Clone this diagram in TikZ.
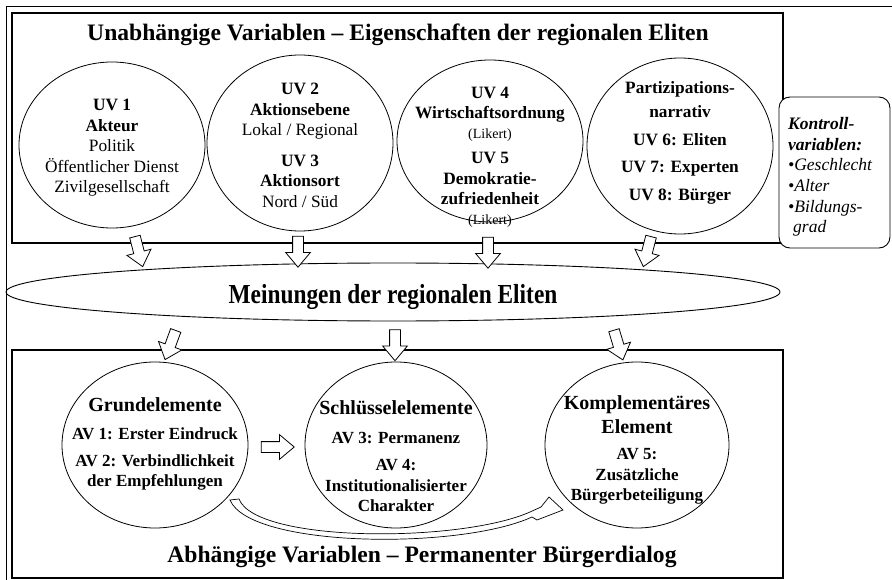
\documentclass[tikz,border=0pt]{standalone}
\usepackage{fontspec}
\usepackage{graphicx}
\setmainfont{Liberation Serif}
\usetikzlibrary{shapes.geometric,shapes.arrows}

\newcommand\fsz[2]{\fontsize{#1}{#2}\selectfont}

\begin{document}
\begin{tikzpicture}[x=1pt,y=-1pt,
  outer/.style={draw, line width=0.7pt},
  panel/.style={draw, line width=1.5pt},
  circ/.style={ellipse, draw, line width=0.8pt, inner sep=0,
               minimum width=186, minimum height=166},
  uvtext/.style={align=center, inner sep=0, font=\fsz{17.3}{20.5}},
  avtext/.style={align=center, inner sep=0, font=\bfseries\fsz{17}{20.5}},
  title/.style={inner sep=0, font=\bfseries\fsz{23.6}{27}},
  blk/.style={single arrow, draw, fill=white, line width=0.8pt, inner sep=0,
              minimum width=24, single arrow head extend=7, single arrow tip angle=80,
              minimum height=31, sloped, allow upside down},
  kbox/.style={draw, fill=white, line width=0.9pt, rounded corners=11}
]
\useasboundingbox (0,0) rectangle (892,580);

% outer frame (open to the right and bottom)
\draw[outer] (892,6) -- (6,6) -- (6,580);

% ---------- independent variables ----------
\draw[panel] (12,13) rectangle (783,243);
\node[title] (ttop) at (398,35) {Unabhängige Variablen – Eigenschaften der regionalen Eliten};

\node[circ] (uv1) at (112,145) {};
\node[circ, minimum height=176] (uv23) at (300,143) {};
\node[circ, minimum height=162] (uv45) at (490,141) {};
\node[circ, minimum height=176] (uv68) at (680,146) {};

\node[uvtext] (t1) at (112,148)
  {\bfseries UV 1\\\bfseries Akteur\\Politik\\Öffentlicher Dienst\\Zivilgesellschaft};
\node[uvtext] (t23) at (300,145.5)
  {\bfseries UV 2\\\bfseries Aktionsebene\\Lokal / Regional\\[10pt]
   \bfseries UV 3\\\bfseries Aktionsort\\Nord / Süd};
\node[uvtext] (t45) at (490,157)
  {\bfseries UV 4\\\bfseries Wirtschaftsordnung\\[-1pt]{\fsz{14}{20.5}(Likert)}\\[5pt]
   \bfseries UV 5\\\bfseries Demokratie-\\\bfseries zufriedenheit\\[-1pt]{\fsz{14}{20.5}(Likert)}};
\node[uvtext, font=\bfseries\fsz{17.3}{20.5}] (t68) at (680,143)
  {Partizipations-\\[3.5pt]narrativ\\[7.5pt]UV 6: Eliten\\[6.5pt]UV 7: Experten\\[7.5pt]UV 8: Bürger};

% control variables
\node[kbox, minimum width=111, minimum height=151] (kv) at (834.5,172.5) {};
\node[align=left, inner sep=0, anchor=west, font=\itshape\fsz{17.5}{20.6}] (kvt) at (788,177)
  {\bfseries Kontroll-\\\bfseries variablen:\\•Geschlecht\\•Alter\\•Bildungs-\\\hspace*{5pt}grad};

% ---------- opinions ----------
\node[ellipse, draw, line width=0.9pt, minimum width=774, minimum height=58, inner sep=0] (mein) at (393,292) {};
\node[inner sep=0, anchor=base, font=\bfseries\fsz{27.5}{30}] (meint) at (393,303)
  {\scalebox{0.85}[1]{Meinungen der regionalen Eliten}};

\coordinate (a1s) at (134,233); \coordinate (a1e) at (142,264);
\coordinate (a2s) at (298,233); \coordinate (a2e) at (298,264);
\coordinate (a3s) at (488,234); \coordinate (a3e) at (488,265);
\coordinate (a4s) at (652,233); \coordinate (a4e) at (644,264);
\path (a1s) -- node[blk] (ar1) {\rule{0pt}{10pt}} (a1e);
\path (a2s) -- node[blk] (ar2) {\rule{0pt}{10pt}} (a2e);
\path (a3s) -- node[blk] (ar3) {\rule{0pt}{10pt}} (a3e);
\path (a4s) -- node[blk] (ar4) {\rule{0pt}{10pt}} (a4e);

% ---------- dependent variables ----------
\draw[panel] (12,350) rectangle (783,578);

\coordinate (b1s) at (177,327); \coordinate (b1e) at (166,357);
\coordinate (b2s) at (395,327); \coordinate (b2e) at (395,357);
\coordinate (b3s) at (613,327); \coordinate (b3e) at (622,357);
\path (b1s) -- node[blk] (br1) {\rule{0pt}{10pt}} (b1e);
\path (b2s) -- node[blk] (br2) {\rule{0pt}{10pt}} (b2e);
\path (b3s) -- node[blk] (br3) {\rule{0pt}{10pt}} (b3e);

\node[circ] (av12) at (155,445) {};
\node[circ, minimum width=182] (av34) at (396,445) {};
\node[circ, minimum width=184] (av5) at (637,445) {};

\node[avtext] (g) at (155,444)
  {{\fsz{20}{20.5}Grundelemente}\\[7pt]AV 1: Erster Eindruck\\[6.5pt]AV 2: Verbindlichkeit\\der Empfehlungen};
\node[avtext] (s) at (396,456)
  {{\fsz{20}{20.5}Schlüsselelemente}\\[9pt]AV 3: Permanenz\\[6.5pt]AV 4:\\Institutionalisierter\\Charakter};
\node[avtext] (k) at (637,450)
  {{\fsz{20}{20.5}Komplementäres}\\[3pt]{\fsz{20}{20.5}Element}\\[6pt]AV 5:\\Zusätzliche\\Bürgerbeteiligung};

\coordinate (hs) at (258,447); \coordinate (he) at (291,447);
\path (hs) -- node[blk, minimum height=33] (harr) {\rule{0pt}{10pt}} (he);

% curved hollow arrow from the basic to the complementary element
\draw[fill=white, line width=0.7pt, line join=miter]
  (230,500) .. controls (250,548) and (460,550) .. (532,517)
  -- (537,520) -- (563,510) -- (549,497) -- (541,507) -- (530,512)
  .. controls (460,543) and (256,543) .. (239,499) -- cycle;

\node[title] (tbot) at (422,557) {Abhängige Variablen – Permanenter Bürgerdialog};
\end{tikzpicture}
\end{document}
